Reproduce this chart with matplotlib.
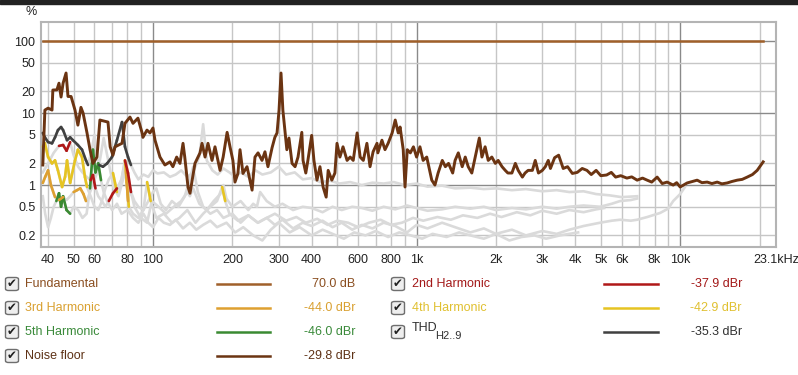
import numpy as np
import matplotlib
matplotlib.use('Agg')
import matplotlib.pyplot as plt
from matplotlib.collections import LineCollection
from matplotlib.lines import Line2D
from matplotlib.patches import Rectangle, FancyBboxPatch

plt.rcParams['font.family'] = ['Liberation Sans', 'DejaVu Sans']

W, H = 798, 375

# fundamental reference (flat 100 %)
fund_freq = [38.2, 20650]
fund_pct = [100, 100]

# noise floor, % of fundamental
noise_freq = [
    38.2, 38.9, 40, 41.4, 41.7, 43.2, 44.0, 44.8, 45.6, 46.8,
    47.6, 48.9, 50.6, 51.9, 53.3, 54.3, 56.2, 57.7, 59.2, 61.3,
    62.9, 67.5, 68.8, 70.5, 71.8, 76.3, 78.3, 81.8, 84.0, 87.7,
    90.8, 91.6, 94.9, 97.4, 100, 101.8, 106.3, 111, 116, 119,
    123, 126.6, 130, 132, 135.8, 138.2, 144.3, 150.8, 153.5, 157.6,
    161.7, 167.5, 171.9, 179.7, 184.6, 191.1, 196, 201, 204.7, 210,
    213.9, 219.5, 227.4, 237.7, 243.8, 250.4, 259.2, 266, 273, 283,
    290, 295.6, 300.8, 306, 311, 322, 328, 337, 346, 355,
    367, 371, 380, 387, 400, 408, 419, 430, 442, 454,
    462, 477, 490, 499, 512, 526, 545, 560, 575, 595,
    611, 628, 648, 666, 684, 708, 713, 739, 759, 780,
    808, 830, 852, 866, 890, 904, 922, 947, 973, 1000,
    1030, 1059, 1093, 1142, 1174, 1207, 1252, 1286, 1322, 1371,
    1400, 1440, 1490, 1530, 1570, 1620, 1670, 1730, 1770, 1820,
    1870, 1930, 1990, 2040, 2110, 2170, 2220, 2300, 2370, 2430,
    2520, 2580, 2650, 2750, 2820, 2900, 3000, 3080, 3160, 3220,
    3340, 3460, 3600, 3740, 3900, 4070, 4250, 4430, 4600, 4800,
    5000, 5260, 5480, 5690, 5950, 6280, 6550, 6870, 7200, 7495,
    7800, 8180, 8550, 8925, 9410, 9700, 10000, 10630, 11100, 11600,
    12100, 12660, 13200, 13820, 14400, 15080, 15700, 16460, 17200, 17960,
    18800, 19600, 20650]
noise_pct = [
    1.9, 11, 11.7, 11, 20.9, 21, 26, 16.7, 26, 36,
    17, 17, 11, 6.8, 12, 10, 5.3, 3.1, 2.0, 2.45,
    8.0, 7.5, 3.4, 2.6, 3.4, 3.8, 7.2, 8.8, 7.2, 8.5,
    5.4, 4.6, 5.8, 5.3, 6.2, 4.2, 2.45, 1.9, 2.1, 1.8,
    2.45, 2.0, 3.8, 2.45, 0.94, 0.77, 2.0, 2.8, 3.8, 2.45,
    3.8, 2.2, 3.4, 1.6, 2.45, 5.4, 3.4, 2.2, 1.1, 1.45,
    3.1, 1.45, 1.8, 0.85, 2.45, 2.8, 2.2, 2.9, 1.8, 3.3,
    4.6, 5.3, 11, 36, 11, 3.1, 4.5, 2.0, 1.8, 2.45,
    5.4, 2.2, 1.47, 2.2, 4.9, 2.2, 1.17, 1.8, 0.94, 0.68,
    1.6, 1.17, 1.47, 3.8, 2.45, 3.4, 2.2, 2.45, 2.2, 5.3,
    2.45, 2.2, 3.8, 1.8, 2.9, 3.8, 2.8, 4.2, 3.1, 3.8,
    5.3, 8.0, 5.3, 6.4, 3.1, 0.94, 3.1, 2.8, 3.4, 2.45,
    3.4, 2.2, 2.45, 1.17, 1.0, 1.47, 2.2, 1.8, 2.0, 1.47,
    2.2, 2.8, 1.8, 2.45, 1.8, 1.47, 2.45, 4.5, 2.45, 3.4,
    2.2, 2.45, 2.0, 2.2, 1.8, 1.6, 1.47, 1.47, 2.0, 1.6,
    1.29, 1.47, 1.6, 1.6, 2.2, 1.47, 1.6, 1.8, 2.2, 1.7,
    2.4, 2.6, 1.7, 1.8, 1.45, 1.5, 1.7, 1.6, 1.4, 1.6,
    1.35, 1.38, 1.5, 1.29, 1.35, 1.25, 1.3, 1.17, 1.25, 1.17,
    1.1, 1.29, 1.05, 1.1, 1.0, 1.08, 0.94, 1.07, 1.12, 1.17,
    1.08, 1.1, 1.05, 1.1, 1.04, 1.07, 1.12, 1.17, 1.2, 1.29,
    1.4, 1.6, 2.1]

# THD H2..9
thd_freq = [
    38.2, 38.9, 40, 41.4, 42.5, 43.6, 44.8, 45.6, 47.2, 48.5,
    49.7, 51.9, 53.8, 55.7, 56.7, 58.5, 60.0, 61.3, 62.5, 64.6,
    67, 69.9, 73.0, 76.3, 78.3, 80.4, 82.5, 85, 88, 92,
    96, 100, 104, 110, 116, 122, 128, 135, 142, 150,
    155, 160, 168, 176, 185, 195, 205, 215, 230, 245,
    260, 280, 300, 320, 345, 370, 400, 430, 470, 510,
    560, 620, 680, 750, 820, 900, 1000, 1100, 1250, 1400,
    1600, 1800, 2000, 2300, 2600, 3000, 3400, 3800, 4300, 4800,
    5400, 6000, 6870]
thd_pct = [
    5.3, 4.6, 3.95, 3.8, 4.6, 5.8, 6.4, 5.8, 4.2, 4.6,
    4.2, 3.6, 3.1, 2.2, 1.9, 3.0, 5.0, 2.4, 1.9, 1.8,
    2.0, 2.45, 4.2, 7.5, 3.4, 2.45, 1.9, 1.5, 1.2, 1.4,
    1.3, 1.6, 1.45, 1.5, 1.3, 1.4, 1.6, 1.3, 1.5, 2.5,
    7.0, 2.2, 1.6, 1.4, 1.7, 1.5, 1.3, 1.5, 1.3, 1.6,
    1.4, 1.5, 1.8, 1.4, 1.5, 1.2, 1.25, 1.1, 1.15, 1.05,
    1.1, 1.0, 1.08, 1.05, 1.1, 1.0, 1.05, 0.95, 0.98, 0.9,
    0.92, 0.88, 0.9, 0.85, 0.88, 0.82, 0.85, 0.8, 0.82, 0.75,
    0.72, 0.68, 0.7]
thd_shown = [(38, 57), (62, 83)]

# 2nd harmonic
h2_freq = [
    38.2, 40, 42, 44, 45.6, 47, 48.5, 50, 52, 54,
    56, 58, 59.2, 60.5, 62, 64, 66, 68, 70.5, 73,
    76, 78.3, 80.4, 82.5, 85, 88, 92, 96, 100, 103,
    107, 112, 118, 125, 132, 138, 142, 148, 155, 165,
    175, 185, 200, 215, 230, 250, 270, 290, 310, 340,
    370, 400, 440, 480, 520, 570, 620, 680, 750, 830,
    920, 1000, 1100, 1250, 1400, 1600, 1800, 2000, 2300, 2600,
    3000, 3400, 3800, 4300, 4970, 5500, 5920, 6500, 6870, 7500,
    8395, 9000, 9410, 10000, 10450]
h2_pct = [
    1.5, 2.0, 2.8, 3.5, 3.6, 3.0, 3.95, 2.6, 1.8, 1.5,
    1.3, 1.17, 1.38, 0.9, 0.7, 0.6, 0.5, 0.6, 0.77, 0.9,
    1.2, 2.2, 1.47, 0.8, 0.6, 0.5, 0.45, 0.6, 0.8, 0.9,
    0.55, 0.45, 0.6, 0.5, 0.7, 1.2, 1.8, 0.8, 0.5, 0.4,
    0.45, 0.35, 0.4, 0.3, 0.38, 0.3, 0.35, 0.28, 0.33, 0.25,
    0.3, 0.27, 0.32, 0.26, 0.3, 0.24, 0.28, 0.25, 0.3, 0.27,
    0.22, 0.28, 0.25, 0.3, 0.26, 0.22, 0.25, 0.21, 0.24, 0.2,
    0.23, 0.21, 0.24, 0.27, 0.3, 0.32, 0.33, 0.32, 0.33, 0.36,
    0.41, 0.47, 0.6, 0.75, 0.95]
h2_shown = [(44, 49), (57, 60), (69, 72), (78, 83), (102, 104), (140, 143)]

# 3rd harmonic
h3_freq = [
    38.2, 39, 40, 41, 42.5, 44, 45.6, 47, 48.5, 50,
    51.5, 53, 54.5, 55.7, 57, 59, 61, 63, 65, 68,
    71, 74, 77, 79, 80.4, 82, 85, 90, 95, 99,
    105, 112, 120, 128, 135, 138, 142, 150, 160, 170,
    180, 185, 190, 200, 215, 230, 240, 248, 255, 270,
    290, 310, 340, 370, 400, 440, 480, 520, 570, 620,
    680, 750, 830, 920, 1000, 1100, 1250, 1400, 1600, 1800,
    2000, 2300, 2600, 3000, 3400, 3800, 4300, 4970, 5500, 5920,
    6500, 6870]
h3_pct = [
    1.07, 1.3, 1.6, 1.0, 0.68, 0.62, 0.68, 0.62, 0.7, 0.8,
    0.85, 0.9, 0.75, 0.6, 0.7, 1.0, 1.4, 2.3, 4.5, 2.0,
    0.9, 0.7, 1.2, 1.6, 0.6, 0.9, 0.5, 0.35, 0.3, 0.6,
    0.5, 0.4, 0.5, 0.6, 0.8, 0.7, 0.9, 0.55, 0.45, 0.6,
    0.75, 1.0, 0.65, 0.5, 0.6, 0.45, 0.55, 0.5, 0.8, 0.6,
    0.5, 0.55, 0.45, 0.5, 0.48, 0.42, 0.5, 0.45, 0.5, 0.48,
    0.44, 0.5, 0.46, 0.52, 0.48, 0.44, 0.46, 0.5, 0.47, 0.5,
    0.45, 0.48, 0.46, 0.5, 0.47, 0.5, 0.52, 0.5, 0.55, 0.6,
    0.62, 0.65]
h3_shown = [(38, 41), (41.5, 43), (44.5, 46), (50.5, 52.5), (53.5, 56),
            (79, 81), (97, 100), (137, 139), (184, 186), (246, 250)]

# 4th harmonic
h4_freq = [
    38.2, 38.9, 40, 41.4, 42.5, 43.6, 45.2, 46.4, 47.2, 48.5,
    50.6, 51.9, 53.8, 55.2, 56.2, 58, 60, 62, 64, 66,
    68, 70.5, 73, 76, 78.3, 79.5, 81, 84, 88, 92,
    95, 98, 103, 110, 118, 126, 135, 145, 155, 165,
    175, 183, 188, 195, 210, 230, 250, 270, 290, 320,
    350, 380, 420, 460, 500, 550, 600, 660, 730, 800,
    880, 970, 1060, 1200, 1350, 1500, 1700, 1900, 2100, 2400,
    2700, 3000, 3400, 3800, 4300, 4800, 5150]
h4_pct = [
    3.4, 3.8, 2.45, 2.0, 2.2, 1.6, 0.94, 1.3, 2.2, 1.07,
    2.2, 3.1, 2.45, 1.29, 0.94, 0.7, 0.5, 0.45, 0.6, 0.9,
    1.2, 1.47, 0.8, 1.2, 2.2, 1.1, 0.5, 0.4, 0.35, 0.45,
    1.1, 0.6, 0.35, 0.4, 0.3, 0.35, 0.45, 0.3, 0.4, 0.5,
    0.6, 0.94, 0.6, 0.4, 0.32, 0.38, 0.3, 0.35, 0.4, 0.32,
    0.36, 0.3, 0.34, 0.28, 0.32, 0.3, 0.26, 0.3, 0.33, 0.28,
    0.3, 0.35, 0.32, 0.36, 0.33, 0.38, 0.35, 0.4, 0.36, 0.42,
    0.38, 0.44, 0.4, 0.45, 0.42, 0.46, 0.48]
h4_shown = [(38, 57), (69.5, 72), (78, 82), (94, 97), (180, 186)]

# 5th harmonic
h5_freq = [
    38.2, 39, 40, 41, 42, 43, 44, 44.8, 45.6, 47,
    48.5, 50, 52, 54, 56, 57.7, 59.2, 60.5, 62, 63.5,
    65, 67, 70, 73, 76, 80, 84, 88, 92, 96,
    100, 105, 110, 116, 122, 130, 138, 146, 155, 165,
    175, 190, 205, 220, 240, 260, 280, 300, 330, 360,
    400, 440, 480, 530, 580, 640, 700, 780, 860, 950,
    1050, 1150, 1300, 1450, 1600, 1800, 2000, 2250, 2500, 2800,
    3100, 3500, 4100]
h5_pct = [
    0.7, 0.4, 0.26, 0.35, 0.5, 0.6, 0.77, 0.5, 0.7, 0.45,
    0.4, 0.5, 0.45, 0.35, 0.4, 0.9, 3.1, 1.5, 2.0, 1.17,
    0.8, 0.6, 0.45, 0.55, 0.4, 0.45, 0.35, 0.3, 0.4, 0.3,
    0.26, 0.35, 0.3, 0.28, 0.33, 0.25, 0.3, 0.24, 0.28, 0.32,
    0.26, 0.3, 0.22, 0.26, 0.2, 0.17, 0.24, 0.3, 0.22, 0.26,
    0.2, 0.24, 0.21, 0.18, 0.22, 0.2, 0.23, 0.19, 0.22, 0.2,
    0.18, 0.21, 0.19, 0.22, 0.2, 0.18, 0.21, 0.17, 0.19, 0.2,
    0.18, 0.2, 0.22]
h5_shown = [(43, 45.2), (45.5, 48), (58, 63)]

x_tick_vals = [40, 50, 60, 80, 100, 200, 300, 400, 600, 800, 1000, 2000,
               3000, 4000, 5000, 6000, 8000, 10000, 23100]
x_tick_labels = ['40', '50', '60', '80', '100', '200', '300', '400', '600',
                 '800', '1k', '2k', '3k', '4k', '5k', '6k', '8k', '10k', '23.1kHz']
y_tick_vals = [100, 50, 20, 10, 5, 2, 1, 0.5, 0.2]
y_tick_labels = ['100', '50', '20', '10', '5', '2', '1', '0.5', '0.2']

GRAY = '#dadada'
C_FUND = '#a0602a'
C_NOISE = '#6b3412'
C_H2 = '#b01818'
C_H3 = '#dea030'
C_H4 = '#e6c422'
C_H5 = '#3a8a32'
C_THD = '#404040'


def px(x, y):
    return x / W, 1 - y / H


def draw_trace(ax, freq, pct, shown, color, lw=1.9):
    f = np.array(freq, float)
    p = np.array(pct, float)
    ax.plot(f, p, color=GRAY, lw=lw, zorder=2, solid_joinstyle='round')
    pts = np.column_stack([f, p])
    segs = np.stack([pts[:-1], pts[1:]], axis=1)
    mid = np.sqrt(f[:-1] * f[1:])
    on = np.zeros(len(mid), bool)
    for a, b in shown:
        on |= (mid >= a) & (mid <= b)
    ax.add_collection(LineCollection(segs[on], colors=color, linewidths=lw,
                                     zorder=3, capstyle='round'))


fig = plt.figure(figsize=(W / 100, H / 100), dpi=100)
fig.patch.set_facecolor('white')
fig.patches.append(Rectangle((0, 1 - 4 / H), 1, 4 / H, transform=fig.transFigure,
                             color='#222222', zorder=0))

x0, x1, y0, y1 = 41, 776, 22, 247
ax = fig.add_axes([x0 / W, 1 - y1 / H, (x1 - x0) / W, (y1 - y0) / H])
ax.set_xscale('log')
ax.set_yscale('log')
ax.set_xlim(37.6, 23100)
ax.set_ylim(0.138, 184)

# grid
vgrid = [40, 50, 60, 70, 80, 90] + [d * m for d in (100, 1000) for m in range(1, 10)] + [10000, 20000]
for v in vgrid:
    dark = v in (100, 1000, 10000)
    ax.axvline(v, color='#8a8a8a' if dark else '#c6c6c6', lw=1.0, zorder=1)
for v in y_tick_vals:
    dark = v in (1, 10, 100)
    ax.axhline(v, color='#8a8a8a' if dark else '#c6c6c6', lw=1.0, zorder=1)

draw_trace(ax, h5_freq, h5_pct, h5_shown, C_H5)
draw_trace(ax, h4_freq, h4_pct, h4_shown, C_H4)
draw_trace(ax, h3_freq, h3_pct, h3_shown, C_H3)
draw_trace(ax, h2_freq, h2_pct, h2_shown, C_H2)
draw_trace(ax, thd_freq, thd_pct, thd_shown, C_THD)
ax.plot(noise_freq, noise_pct, color=C_NOISE, lw=2.1, zorder=4)
ax.plot(fund_freq, fund_pct, color=C_FUND, lw=1.8, zorder=4)

ax.set_xticks(x_tick_vals)
ax.set_xticklabels(x_tick_labels)
ax.set_yticks(y_tick_vals)
ax.set_yticklabels(y_tick_labels)
ax.minorticks_off()
ax.tick_params(length=0, labelsize=9, labelcolor='#222222')
ax.tick_params(axis='x', pad=5)
ax.tick_params(axis='y', pad=4)
for s in ax.spines.values():
    s.set_color('#b4b4b4')
    s.set_linewidth(1.5)

fig.text(*px(31, 12), '%', fontsize=9, color='#222222', ha='center', va='center')

# legend
rows = [284, 308, 332, 356]
col1 = [('Fundamental', '#8a4e20', C_FUND, '70.0 dB'),
        ('3rd Harmonic', '#d9a030', C_H3, '-44.0 dBr'),
        ('5th Harmonic', '#3a8a3a', C_H5, '-46.0 dBr'),
        ('Noise floor', '#5e3216', C_NOISE, '-29.8 dBr')]
col2 = [('2nd Harmonic', '#a31818', C_H2, '-37.9 dBr'),
        ('4th Harmonic', '#e0c030', C_H4, '-42.9 dBr'),
        ('THD', '#303030', C_THD, '-35.3 dBr')]


def checkbox(cx, cy):
    bx, by = px(cx - 6.5, cy + 6.5)
    fig.patches.append(FancyBboxPatch((bx, by), 13 / W, 13 / H,
                                      boxstyle='round,pad=0,rounding_size=0.004',
                                      transform=fig.transFigure, facecolor='#eeeeee',
                                      edgecolor='#6e6e6e', lw=1.0))
    fig.text(*px(cx, cy), '\u2714', fontsize=8.5, color='#202020',
             ha='center', va='center', family='DejaVu Sans')


for items, cbx, lx, l0, l1, vx in [(col1, 12, 25, 217, 270, 355),
                                   (col2, 398, 412, 604, 658, 742)]:
    for (name, tcol, lcol, val), ry in zip(items, rows):
        checkbox(cbx, ry)
        if name == 'THD':
            fig.text(*px(lx, ry - 4), 'THD', fontsize=9, color=tcol, ha='left', va='center')
            fig.text(*px(lx + 23, ry + 4), 'H2..9', fontsize=8, color=tcol, ha='left', va='center')
        else:
            fig.text(*px(lx, ry), name, fontsize=9, color=tcol, ha='left', va='center')
        fig.lines.append(Line2D([l0 / W, l1 / W], [1 - ry / H] * 2, color=lcol,
                                lw=1.8, transform=fig.transFigure))
        fig.text(*px(vx, ry), val, fontsize=9, color=tcol, ha='right', va='center')

fig.savefig('out.png', dpi=100)
